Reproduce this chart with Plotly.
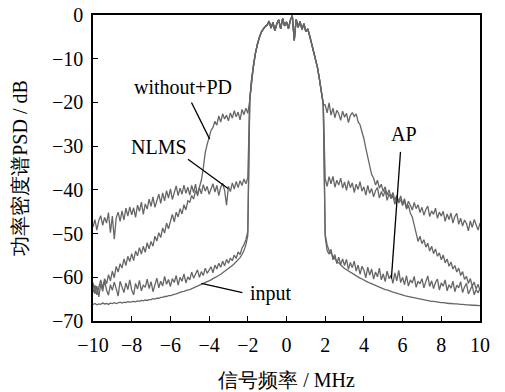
import numpy as np
import plotly.graph_objects as go

# ---- sampling grid (MHz) ----
FREQ_LEFT = np.round(np.linspace(-10.0, -2.0, 81), 2)
FREQ_MAIN = np.round(np.linspace(-1.9, 1.9, 39), 2)
FREQ_RIGHT = np.round(np.linspace(2.0, 10.0, 81), 2)

# ---- shared main lobe (dB), x = -1.9 .. 1.9 ----
MAIN_LOBE = [
    -19.5, -14.5, -11.2, -8.6, -6.5, -5.0, -3.9, -3.2, -2.6, -2.3,
    -1.4, -3.0, -1.7, -3.6, -2.0, -1.1, -3.2, -0.8, -2.5, -1.6,
    -3.1, -1.2, -0.1, -5.8, -1.0, -2.8, -1.5, -3.3, -2.0, -3.8,
    -3.2, -4.8, -6.5, -8.4, -9.9, -12.0, -14.6, -17.2, -20.4,
]

# ---- NLMS ----
NLMS_LEFT = [
    -48.5, -46.8, -49.2, -47.0, -45.9, -48.1, -46.3, -47.6, -45.2, -49.8,
    -46.0, -51.3, -46.4, -45.1, -47.2, -44.8, -46.9, -44.2, -46.0, -43.9,
    -45.7, -44.1, -46.3, -43.5, -44.9, -42.8, -45.6, -43.2, -44.4, -42.1,
    -43.8, -41.6, -44.0, -42.3, -41.0, -43.1, -40.7, -42.5, -40.2, -41.9,
    -39.8, -42.2, -40.4, -39.1, -41.3, -39.6, -41.0, -38.9, -40.8, -39.4,
    -41.2, -39.0, -40.6, -38.7, -41.4, -39.5, -40.9, -38.8, -40.3, -39.2,
    -41.0, -39.6, -38.6, -40.5, -39.0, -41.3, -39.4, -38.5, -40.1, -43.5,
    -39.2, -40.4, -38.4, -39.8, -38.1, -39.5, -37.9, -39.0, -37.5, -38.6,
    -37.2,
]
NLMS_RIGHT = [
    -37.5, -39.2, -37.0, -38.6, -36.9, -39.4, -37.8, -38.9, -37.3, -39.6,
    -38.2, -40.1, -37.9, -39.5, -38.4, -40.6, -38.7, -39.9, -38.1, -40.3,
    -39.3, -41.2, -39.0, -40.8, -39.7, -41.6, -40.2, -39.5, -41.9, -40.4,
    -41.5, -40.1, -42.4, -40.9, -42.0, -41.2, -43.3, -41.6, -42.7, -41.4,
    -43.2, -42.0, -44.1, -42.6, -43.5, -44.6, -42.9, -44.3, -43.4, -45.2,
    -44.0, -45.8, -44.5, -43.7, -46.1, -44.8, -45.6, -44.2, -46.5, -45.1,
    -46.0, -44.9, -47.2, -45.5, -46.8, -45.3, -47.6, -46.1, -45.4, -47.9,
    -46.5, -48.3, -46.9, -47.7, -49.4, -47.1, -48.6, -46.8, -48.0, -49.2,
    -47.6,
]

# ---- without+PD ----
WPD_LEFT = [
    -63.5, -61.8, -64.0, -62.1, -60.6, -62.4, -60.3, -61.5, -59.4, -60.8,
    -58.6, -60.1, -57.5, -58.8, -56.9, -57.9, -55.8, -57.3, -55.2, -56.4,
    -54.6, -56.2, -54.0, -55.1, -53.2, -54.7, -52.9, -54.3, -52.1, -53.5,
    -51.8, -52.9, -50.6, -51.7, -49.8, -50.9, -48.7, -49.9, -47.6, -48.9,
    -47.0, -45.6, -47.3, -45.1, -46.2, -44.3, -45.5, -43.4, -44.6, -42.5,
    -42.8, -41.3, -42.1, -40.2, -41.0, -39.4, -37.8, -35.0, -31.5, -29.6,
    -27.8, -26.4, -25.7, -24.3, -25.2, -23.1, -24.5, -22.6, -23.8, -22.9,
    -24.2, -22.4, -23.6, -21.9, -23.3, -22.2, -24.0, -21.6, -22.8, -21.3,
    -22.5,
]
WPD_RIGHT = [
    -20.6, -22.4, -20.1, -22.9, -21.3, -23.5, -21.8, -22.6, -24.1, -22.0,
    -23.4, -22.5, -24.6, -23.0, -22.3, -23.2, -22.6, -24.4, -25.1, -26.6,
    -28.3, -30.5, -32.4, -34.8, -36.5, -37.3, -38.9, -37.8, -39.6, -38.7,
    -40.4, -39.3, -41.2, -40.0, -41.7, -40.6, -42.4, -41.3, -43.0, -42.2,
    -43.6, -42.5, -44.4, -43.5, -45.3, -46.2, -48.1, -50.3, -51.8, -50.6,
    -52.3, -51.4, -53.1, -52.2, -54.0, -52.9, -54.6, -53.5, -55.2, -54.4,
    -56.0, -54.9, -56.7, -55.8, -57.5, -56.5, -58.1, -57.3, -58.8, -57.9,
    -59.6, -58.7, -60.5, -59.8, -61.4, -60.3, -62.0, -61.1, -62.7, -61.6,
    -63.0,
]

# ---- AP ----
AP_LEFT = [
    -61.2, -63.8, -62.0, -64.5, -61.5, -63.2, -60.8, -62.9, -64.1, -61.7,
    -63.0, -61.1, -62.6, -64.3, -60.9, -62.4, -63.5, -61.3, -62.8, -60.6,
    -62.9, -64.0, -61.4, -62.7, -60.7, -63.1, -61.8, -62.3, -60.4, -62.6,
    -61.0, -63.3, -61.9, -60.2, -62.4, -60.9, -62.0, -59.8, -61.6, -60.5,
    -62.1, -60.3, -61.2, -59.6, -61.8, -60.0, -60.9, -59.2, -61.3, -59.9,
    -60.6, -58.8, -60.2, -59.4, -58.3, -60.0, -58.7, -59.6, -57.9, -59.1,
    -58.4, -57.6, -59.0, -57.2, -58.1, -56.8, -57.7, -56.3, -57.4, -55.9,
    -56.8, -55.6, -56.2, -54.9, -55.7, -54.2, -54.8, -53.3, -52.6, -51.4,
    -49.5,
]
AP_RIGHT = [
    -50.8, -53.9, -54.7, -53.6, -56.0, -54.8, -56.9, -55.4, -57.1, -55.8,
    -57.3, -55.9, -58.2, -56.6, -57.8, -56.3, -58.6, -57.2, -59.3, -57.5,
    -58.4, -60.1, -57.7, -59.5, -58.1, -60.4, -58.8, -59.9, -57.9, -60.6,
    -59.2, -61.0, -58.6, -60.3, -59.5, -61.4, -59.0, -60.8, -58.4, -61.2,
    -60.0, -61.7, -59.6, -62.0, -60.6, -61.3, -59.8, -62.3, -60.9, -61.5,
    -60.3, -62.4, -61.0, -59.7, -62.1, -60.8, -62.6, -61.2, -60.4, -62.9,
    -61.3, -62.0, -60.6, -63.1, -61.7, -62.5, -60.9, -63.3, -61.8, -62.4,
    -61.0, -63.5, -62.2, -61.4, -63.8, -62.6, -61.9, -64.0, -62.8, -63.6,
    -62.5,
]

# ---- input ----
INPUT_LEFT = [
    -66.2, -66.0, -66.3, -66.1, -66.2, -65.9, -66.1, -66.0, -66.2, -65.9,
    -66.0, -65.8, -66.0, -65.9, -65.7, -65.9, -65.7, -65.8, -65.6, -65.7,
    -65.6, -65.5, -65.6, -65.4, -65.5, -65.3, -65.4, -65.2, -65.3, -65.1,
    -65.1, -64.9, -65.0, -64.8, -64.8, -64.6, -64.6, -64.4, -64.4, -64.2,
    -64.2, -64.0, -63.9, -63.8, -63.6, -63.5, -63.3, -63.2, -63.0, -62.9,
    -62.8, -62.6, -62.4, -62.3, -62.1, -61.9, -61.7, -61.5, -61.3, -61.0,
    -60.8, -60.6, -60.3, -60.1, -59.8, -59.6, -59.3, -59.0, -58.7, -58.4,
    -58.0, -57.7, -57.3, -56.9, -56.5, -56.0, -55.5, -54.8, -53.9, -52.6,
    -50.5,
]
INPUT_RIGHT = [
    -50.2, -52.6, -53.9, -54.6, -55.2, -55.8, -56.3, -56.8, -57.2, -57.6,
    -58.0, -58.3, -58.6, -58.9, -59.2, -59.5, -59.8, -60.0, -60.2, -60.4,
    -60.7, -60.9, -61.1, -61.3, -61.5, -61.7, -61.9, -62.1, -62.3, -62.4,
    -62.6, -62.8, -62.9, -63.1, -63.2, -63.4, -63.5, -63.7, -63.8, -63.9,
    -64.1, -64.2, -64.3, -64.4, -64.5, -64.6, -64.7, -64.8, -64.9, -65.0,
    -65.1, -65.2, -65.3, -65.3, -65.4, -65.5, -65.5, -65.6, -65.7, -65.7,
    -65.8, -65.8, -65.9, -65.9, -66.0, -66.0, -66.1, -66.1, -66.1, -66.2,
    -66.2, -66.2, -66.3, -66.3, -66.3, -66.4, -66.4, -66.4, -66.4, -66.5,
    -66.5,
]

SERIES_NAMES = ["input", "AP", "NLMS", "without+PD"]
SERIES_LEFT = [INPUT_LEFT, AP_LEFT, NLMS_LEFT, WPD_LEFT]
SERIES_RIGHT = [INPUT_RIGHT, AP_RIGHT, NLMS_RIGHT, WPD_RIGHT]

# ---- labels with pointer lines ----
LABEL_TEXT = ["without+PD", "NLMS", "AP", "input"]
LABEL_X = [-5.35, -6.6, 6.06, -0.78]
LABEL_Y = [-16.5, -30.1, -27.2, -63.7]
POINTER_X0 = [-4.91, -5.09, 5.89, -2.28]
POINTER_Y0 = [-20.0, -33.0, -31.3, -63.5]
POINTER_X1 = [-3.97, -3.02, 5.42, -4.40]
POINTER_Y1 = [-28.4, -39.7, -60.3, -61.4]

X_TICKS = [-10, -8, -6, -4, -2, 0, 2, 4, 6, 8, 10]
Y_TICKS = [0, -10, -20, -30, -40, -50, -60, -70]

FONT = "Liberation Serif"

fig = go.Figure()
x_all = np.concatenate([FREQ_LEFT, FREQ_MAIN, FREQ_RIGHT])
for name, left, right in zip(SERIES_NAMES, SERIES_LEFT, SERIES_RIGHT):
    assert len(left) == 81 and len(right) == 81
    y_all = np.concatenate([left, MAIN_LOBE, right])
    fig.add_trace(go.Scatter(
        x=x_all, y=y_all, mode="lines", name=name,
        line=dict(color="#666666", width=1.3),
        showlegend=False, hoverinfo="skip",
    ))

for t, lx, ly in zip(LABEL_TEXT, LABEL_X, LABEL_Y):
    fig.add_annotation(x=lx, y=ly, text=t, showarrow=False,
                       font=dict(family=FONT, size=20, color="black"),
                       xanchor="center", yanchor="middle")
for x0, y0, x1, y1 in zip(POINTER_X0, POINTER_Y0, POINTER_X1, POINTER_Y1):
    fig.add_shape(type="line", x0=x0, y0=y0, x1=x1, y1=y1,
                  xref="x", yref="y", line=dict(color="black", width=1.3))

fig.update_layout(
    width=505, height=392,
    margin=dict(l=93, r=25, t=15, b=71, autoexpand=False),
    paper_bgcolor="white", plot_bgcolor="white",
    font=dict(family=FONT, size=20, color="black"),
)
fig.update_xaxes(
    range=[-10, 10], tickvals=X_TICKS, automargin=False,
    ticks="inside", ticklen=5, tickwidth=1.2, tickcolor="black",
    showline=True, linecolor="black", linewidth=1.5, mirror=True,
    showgrid=False, zeroline=False, ticklabelstandoff=5,
    ticklabeloverflow="allow",
    tickfont=dict(family=FONT, size=20),
    title=dict(text="信号频率 / MHz", standoff=18,
               font=dict(family=FONT, size=20)),
)
fig.update_yaxes(
    range=[-70, 0], tickvals=Y_TICKS, automargin=False,
    ticks="inside", ticklen=5, tickwidth=1.2, tickcolor="black",
    showline=True, linecolor="black", linewidth=1.5, mirror=True,
    showgrid=False, zeroline=False, ticklabelstandoff=4,
    ticklabeloverflow="allow",
    tickfont=dict(family=FONT, size=20),
    title=dict(text="功率密度谱PSD / dB", standoff=19,
               font=dict(family=FONT, size=20)),
)

# remove the page's default 8px body margin so the figure fills the window
fig.write_html("out.html", config={"displayModeBar": False},
               post_script="document.body.style.margin='0';")
